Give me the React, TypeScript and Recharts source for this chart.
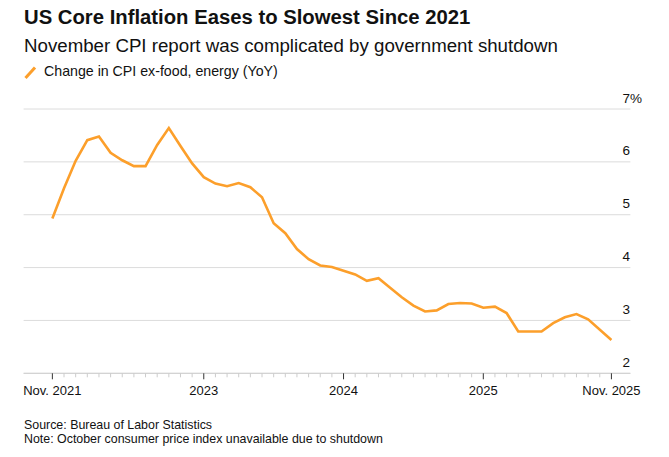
import React from "react";
import { LineChart, Line, XAxis, YAxis, CartesianGrid } from "recharts";

const MONTHS = [
  "2021-11","2021-12","2022-01","2022-02","2022-03","2022-04","2022-05","2022-06","2022-07","2022-08","2022-09","2022-10",
  "2022-11","2022-12","2023-01","2023-02","2023-03","2023-04","2023-05","2023-06","2023-07","2023-08","2023-09","2023-10",
  "2023-11","2023-12","2024-01","2024-02","2024-03","2024-04","2024-05","2024-06","2024-07","2024-08","2024-09","2024-10",
  "2024-11","2024-12","2025-01","2025-02","2025-03","2025-04","2025-05","2025-06","2025-07","2025-08","2025-09","2025-10",
  "2025-11",
];

const CORE_CPI_YOY: (number | null)[] = [
  4.93, 5.5, 6.02, 6.41, 6.48, 6.17, 6.03, 5.92, 5.92, 6.32, 6.64, 6.3,
  5.97, 5.71, 5.59, 5.54, 5.6, 5.52, 5.33, 4.84, 4.65, 4.35, 4.16, 4.04,
  4.01, 3.94, 3.87, 3.75, 3.8, 3.62, 3.44, 3.28, 3.17, 3.19, 3.31, 3.33,
  3.32, 3.24, 3.26, 3.14, 2.79, 2.79, 2.79, 2.95, 3.06, 3.12, 3.02, null,
  2.63,
];

const MAJOR_TICKS = [0, 13, 25, 37, 48];
const MAJOR_LABELS = ["Nov. 2021", "2023", "2024", "2025", "Nov. 2025"];
const Y_TICKS = [2, 3, 4, 5, 6, 7];

const data = MONTHS.map((m, i) => ({ idx: i, month: m, value: CORE_CPI_YOY[i] }));
const allTicks = MONTHS.map((_, i) => i);

const FONT = "'Liberation Sans', Arial, Helvetica, sans-serif";
const ORANGE = "#fc9f2b";

const XTick = (props: any) => {
  const { x, y, payload } = props;
  const k = MAJOR_TICKS.indexOf(payload.value);
  const major = k >= 0;
  return (
    <g>
      <line x1={x} x2={x} y1={y} y2={y + (major ? 6 : 4)} stroke={major ? "#333" : "#ccc"} strokeWidth={1} />
      {major && (
        <text x={x} y={y + 17} textAnchor="middle" dominantBaseline="central" fontSize={13} fill="#111" fontFamily={FONT}>
          {MAJOR_LABELS[k]}
        </text>
      )}
    </g>
  );
};

const YTick = (props: any) => {
  const { x, y, payload } = props;
  return (
    <text x={x - 8} y={y - 11} textAnchor="start" dominantBaseline="central" fontSize={13.5} fill="#111" fontFamily={FONT}>
      {payload.value === 7 ? "7%" : String(payload.value)}
    </text>
  );
};

export default function App() {
  return (
    <div style={{ position: "absolute", left: 0, top: 0, width: 669, height: 457, background: "#fff", fontFamily: FONT, color: "#111" }}>
      <div style={{ position: "absolute", left: 24, top: 6, fontSize: 20.3, fontWeight: 700, whiteSpace: "nowrap" }}>
        US Core Inflation Eases to Slowest Since 2021
      </div>
      <div style={{ position: "absolute", left: 24, top: 35, fontSize: 18.7, whiteSpace: "nowrap" }}>
        November CPI report was complicated by government shutdown
      </div>
      <svg width={14} height={14} style={{ position: "absolute", left: 24, top: 66 }}>
        <line x1={1.5} y1={12} x2={11} y2={1.5} stroke={ORANGE} strokeWidth={3} />
      </svg>
      <div style={{ position: "absolute", left: 44, top: 62.8, fontSize: 14.2, whiteSpace: "nowrap" }}>
        Change in CPI ex-food, energy (YoY)
      </div>
      <div style={{ position: "absolute", left: 0, top: 0 }}>
        <LineChart width={669} height={457} data={data} margin={{ top: 109, right: 0, bottom: 53.7, left: 23.6 }}>
          <CartesianGrid horizontal vertical={false} stroke="#dcdcdc" strokeWidth={1} />
          <XAxis
            dataKey="idx"
            type="number"
            domain={[-2.47, 49.63]}
            allowDataOverflow
            ticks={allTicks}
            interval={0}
            tick={<XTick />}
            tickLine={false}
            tickSize={0}
            tickMargin={0}
            axisLine={{ stroke: "#cfcfcf" }}
            height={30}
          />
          <YAxis
            orientation="right"
            domain={[2, 7]}
            ticks={Y_TICKS}
            interval={0}
            tick={<YTick />}
            tickLine={false}
            tickSize={0}
            tickMargin={0}
            axisLine={false}
            width={38.6}
          />
          <Line
            type="linear"
            dataKey="value"
            stroke={ORANGE}
            strokeWidth={2.6}
            dot={false}
            connectNulls
            isAnimationActive={false}
          />
        </LineChart>
      </div>
      <div style={{ position: "absolute", left: 24, top: 418, fontSize: 12.4, whiteSpace: "nowrap" }}>
        Source: Bureau of Labor Statistics
      </div>
      <div style={{ position: "absolute", left: 24, top: 432, fontSize: 12.4, whiteSpace: "nowrap" }}>
        Note: October consumer price index unavailable due to shutdown
      </div>
    </div>
  );
}
